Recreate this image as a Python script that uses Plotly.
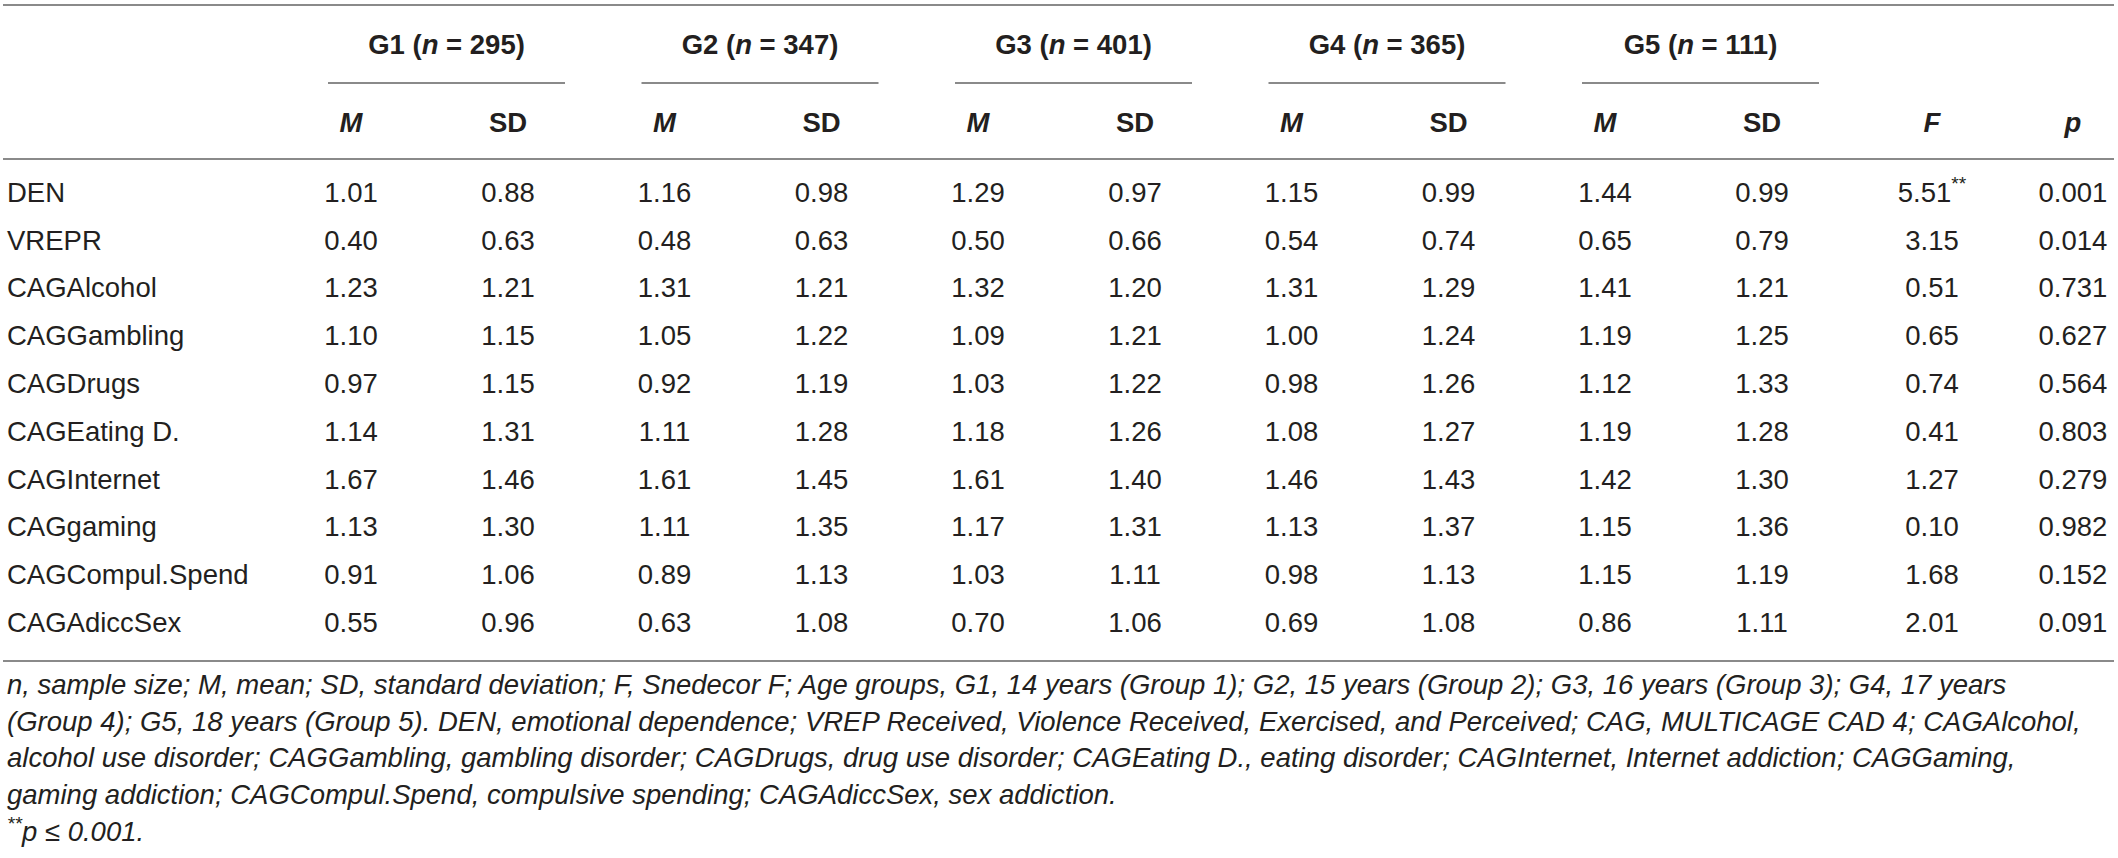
import plotly.graph_objects as go

# ---------------- data ----------------
row_labels = ["DEN", "VREPR", "CAGAlcohol", "CAGGambling", "CAGDrugs", "CAGEating D.",
              "CAGInternet", "CAGgaming", "CAGCompul.Spend", "CAGAdiccSex"]
group_labels = ["G1", "G2", "G3", "G4", "G5"]
group_sizes = [295, 347, 401, 365, 111]

mean_g1 = [1.01, 0.40, 1.23, 1.10, 0.97, 1.14, 1.67, 1.13, 0.91, 0.55]
sd_g1 = [0.88, 0.63, 1.21, 1.15, 1.15, 1.31, 1.46, 1.30, 1.06, 0.96]
mean_g2 = [1.16, 0.48, 1.31, 1.05, 0.92, 1.11, 1.61, 1.11, 0.89, 0.63]
sd_g2 = [0.98, 0.63, 1.21, 1.22, 1.19, 1.28, 1.45, 1.35, 1.13, 1.08]
mean_g3 = [1.29, 0.50, 1.32, 1.09, 1.03, 1.18, 1.61, 1.17, 1.03, 0.70]
sd_g3 = [0.97, 0.66, 1.20, 1.21, 1.22, 1.26, 1.40, 1.31, 1.11, 1.06]
mean_g4 = [1.15, 0.54, 1.31, 1.00, 0.98, 1.08, 1.46, 1.13, 0.98, 0.69]
sd_g4 = [0.99, 0.74, 1.29, 1.24, 1.26, 1.27, 1.43, 1.37, 1.13, 1.08]
mean_g5 = [1.44, 0.65, 1.41, 1.19, 1.12, 1.19, 1.42, 1.15, 1.15, 0.86]
sd_g5 = [0.99, 0.79, 1.21, 1.25, 1.33, 1.28, 1.30, 1.36, 1.19, 1.11]
f_values = [5.51, 3.15, 0.51, 0.65, 0.74, 0.41, 1.27, 0.10, 1.68, 2.01]
f_marks = ["**", "", "", "", "", "", "", "", "", ""]
p_values = [0.001, 0.014, 0.731, 0.627, 0.564, 0.803, 0.279, 0.982, 0.152, 0.091]

sub_headers = ["<i>M</i>", "SD"]
footnote_lines = [
    "n, sample size; M, mean; SD, standard deviation; F, Snedecor F; Age groups, G1, 14 years (Group 1); G2, 15 years (Group 2); G3, 16 years (Group 3); G4, 17 years",
    "(Group 4); G5, 18 years (Group 5). DEN, emotional dependence; VREP Received, Violence Received, Exercised, and Perceived; CAG, MULTICAGE CAD 4; CAGAlcohol,",
    "alcohol use disorder; CAGGambling, gambling disorder; CAGDrugs, drug use disorder; CAGEating D., eating disorder; CAGInternet, Internet addiction; CAGGaming,",
    "gaming addiction; CAGCompul.Spend, compulsive spending; CAGAdiccSex, sex addiction.",
    "<sup>**</sup>p ≤ 0.001.",
]

means = [mean_g1, mean_g2, mean_g3, mean_g4, mean_g5]
sds = [sd_g1, sd_g2, sd_g3, sd_g4, sd_g5]

# ---------------- layout / style ----------------
W, H = 2118, 858
FONT = "Liberation Sans"
FS = 27.5
FS_FOOT = 27.5
COLOR = "#231f20"
LINE_COLOR = "#8a8a8a"
LABEL_X = 7
M_X0, SD_X0, GROUP_STEP = 351, 508, 313.5
F_X, P_X = 1932, 2073
GROUP_SHIFT, GROUP_HALF = 17, 118.5
Y_TOP_LINE, Y_GROUP, Y_GROUP_LINE, Y_SUB, Y_HEAD_LINE = 5, 47, 83, 125, 159
Y_ROW0, ROW_STEP = 195, 47.8
Y_BOTTOM_LINE = 661
Y_FOOT0, FOOT_STEP = 687, 36.8

m_x = [M_X0 + GROUP_STEP * g for g in range(len(group_labels))]
sd_x = [SD_X0 + GROUP_STEP * g for g in range(len(group_labels))]
row_y = [Y_ROW0 + ROW_STEP * i for i in range(len(row_labels))]

fig = go.Figure()

# row labels
fig.add_trace(go.Scatter(x=[LABEL_X] * len(row_labels), y=row_y, text=row_labels,
                         mode="text", textposition="middle right",
                         textfont=dict(family=FONT, size=FS, color=COLOR)))

# numeric body cells
xs, ys, ts = [], [], []
for g in range(len(group_labels)):
    for i in range(len(row_labels)):
        xs += [m_x[g], sd_x[g]]
        ys += [row_y[i], row_y[i]]
        ts += [f"{means[g][i]:.2f}", f"{sds[g][i]:.2f}"]
for i in range(len(row_labels)):
    xs += [F_X, P_X]
    ys += [row_y[i], row_y[i]]
    mark = f"<sup>{f_marks[i]}</sup>" if f_marks[i] else ""
    ts += [f"{f_values[i]:.2f}{mark}", f"{p_values[i]:.3f}"]
fig.add_trace(go.Scatter(x=xs, y=ys, text=ts, mode="text", textposition="middle center",
                         textfont=dict(family=FONT, size=FS, color=COLOR)))

# header texts
hx, hy, ht = [], [], []
for g, (lab, n) in enumerate(zip(group_labels, group_sizes)):
    hx.append((m_x[g] + sd_x[g]) / 2 + GROUP_SHIFT)
    hy.append(Y_GROUP)
    ht.append(f"<b>{lab} (<i>n</i> = {n})</b>")
    hx += [m_x[g], sd_x[g]]
    hy += [Y_SUB, Y_SUB]
    ht += [f"<b>{sub_headers[0]}</b>", f"<b>{sub_headers[1]}</b>"]
hx += [F_X, P_X]
hy += [Y_SUB, Y_SUB]
ht += ["<b><i>F</i></b>", "<b><i>p</i></b>"]
fig.add_trace(go.Scatter(x=hx, y=hy, text=ht, mode="text", textposition="middle center",
                         textfont=dict(family=FONT, size=FS, color=COLOR)))

# footnote
fig.add_trace(go.Scatter(x=[LABEL_X] * len(footnote_lines),
                         y=[Y_FOOT0 + FOOT_STEP * k for k in range(len(footnote_lines))],
                         text=[f"<i>{t}</i>" for t in footnote_lines],
                         mode="text", textposition="middle right",
                         textfont=dict(family=FONT, size=FS_FOOT, color=COLOR)))

# rules
shapes = []
for y in (Y_TOP_LINE, Y_HEAD_LINE, Y_BOTTOM_LINE):
    shapes.append(dict(type="line", xref="x", yref="y", x0=3, x1=W - 4, y0=y, y1=y,
                       line=dict(color=LINE_COLOR, width=1.8)))
for g in range(len(group_labels)):
    c = (m_x[g] + sd_x[g]) / 2 + GROUP_SHIFT
    shapes.append(dict(type="line", xref="x", yref="y", x0=c - GROUP_HALF, x1=c + GROUP_HALF,
                       y0=Y_GROUP_LINE, y1=Y_GROUP_LINE,
                       line=dict(color=LINE_COLOR, width=1.8)))

fig.update_layout(
    width=W, height=H, margin=dict(l=0, r=0, t=0, b=0),
    paper_bgcolor="white", plot_bgcolor="white", showlegend=False,
    xaxis=dict(range=[0, W], visible=False, fixedrange=True),
    yaxis=dict(range=[H, 0], visible=False, fixedrange=True),
    shapes=shapes, hovermode=False,
)

fig.write_html("out.html", config=dict(staticPlot=True, displayModeBar=False),
               post_script="document.body.style.margin='0';document.body.style.overflow='hidden';")
